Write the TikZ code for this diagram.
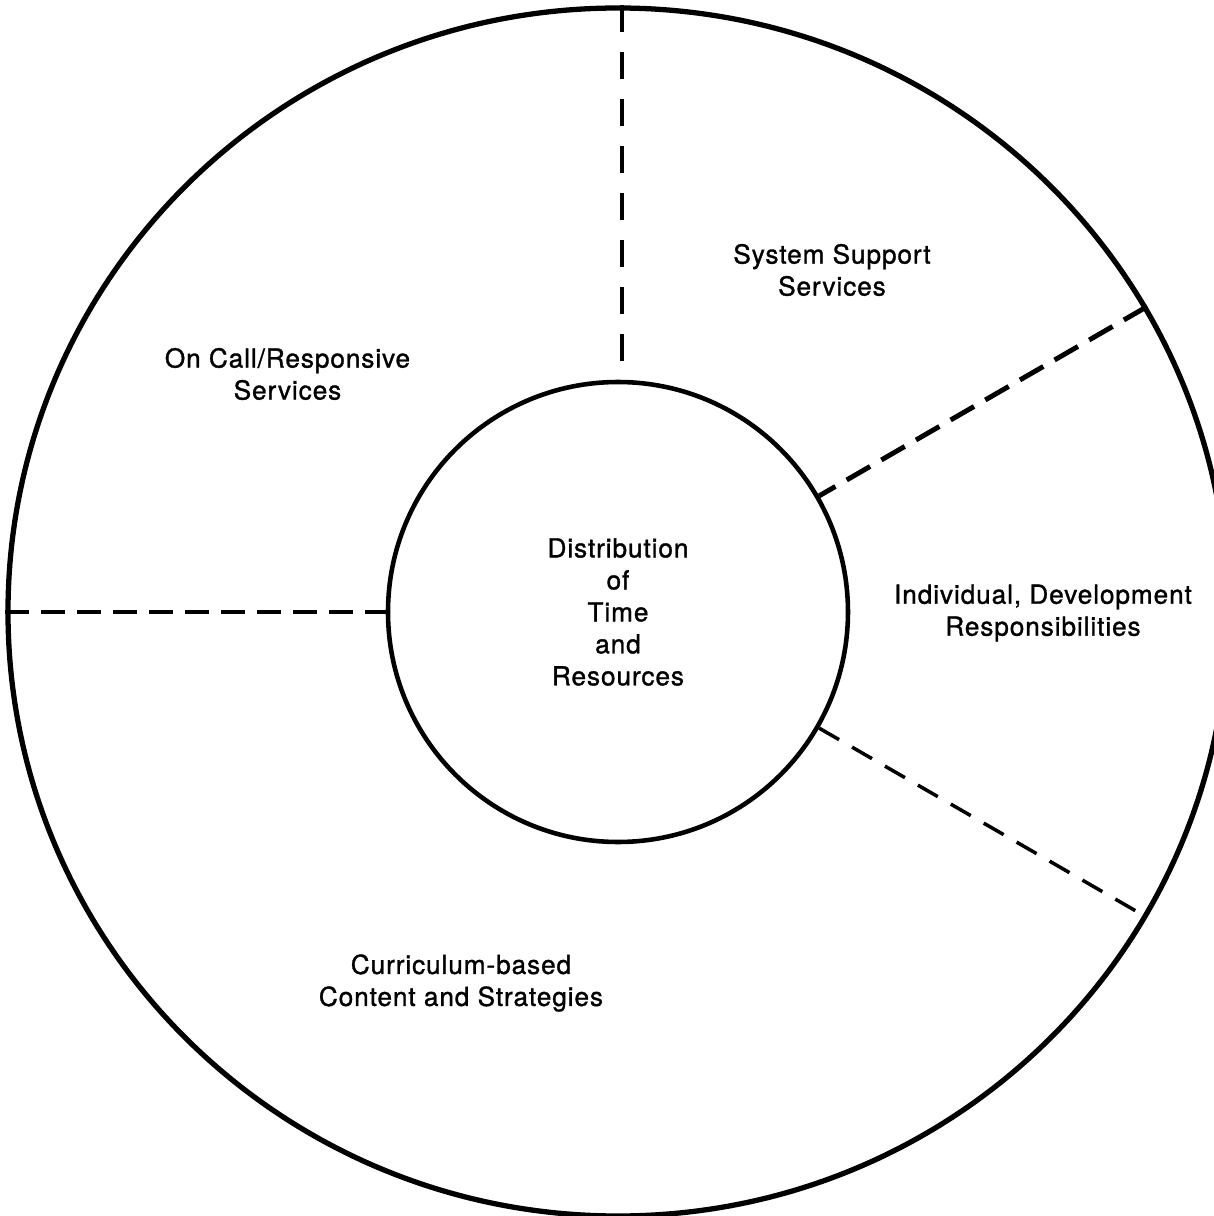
\documentclass[tikz,border=0pt]{standalone}
\usepackage{fontspec}
\setmainfont{TeX Gyre Heros}[LetterSpace=3.5, FakeBold=1.2]
\usetikzlibrary{shapes.geometric}
\newcommand{\sectorfont}{\fontsize{14.9pt}{18.2pt}\selectfont}
\colorlet{ink}{black}
\tikzset{
  rim/.style       ={draw=ink, ellipse, line width=3pt, inner sep=0pt,
                     minimum width=24.4cm, minimum height=24.16cm},
  hub/.style       ={draw=ink, circle, line width=2.6pt, inner sep=0pt,
                     minimum size=9.2cm, align=center, font=\sectorfont},
  sector/.style    ={align=center, font=\sectorfont, text=ink},
  divider/.style   ={-, ink, line width=2.6pt},
  divider-v/.style ={divider, dash pattern=on 0.54cm off 0.40cm},
  divider-h/.style ={divider, dash pattern=on 0.48cm off 0.24cm},
  divider-up/.style={divider, line width=2.8pt,
                     dash pattern=on 0.54cm off 0.26cm},
  divider-dn/.style={divider, line width=2pt,
                     dash pattern=on 0.46cm off 0.30cm},
}

\begin{document}
\begin{tikzpicture}
\useasboundingbox (-12.36, -12.08) rectangle (11.92, 12.24);

% rings
\node[rim] (rim) at (0, 0) {};
\node[hub] (hub) at (0, 0)
  {Distribution\\of\\Time\\and\\Resources};

% sector boundaries
\draw[divider-v] ([xshift=0.08cm]rim.north)
  -- ([xshift=0.08cm, yshift=0.2cm]hub.north);
\draw[divider-h] (rim.west) -- (hub.west);
\draw[divider-up] (rim.30) -- (hub.30);
\draw[divider-dn] (hub.-30) -- (rim.-30);

% sector labels
\node[sector] (sys) at (4.28, 6.84) {System Support\\Services};
\node[sector] (call) at (-6.61, 4.76) {On Call/Responsive\\Services};
\node[sector] (ind) at (8.5, -0.02)
  {Individual, Development\\Responsibilities};
\node[sector] (cur) at (-3.14, -7.42)
  {Curriculum-based\\Content and Strategies};

\end{tikzpicture}
\end{document}
